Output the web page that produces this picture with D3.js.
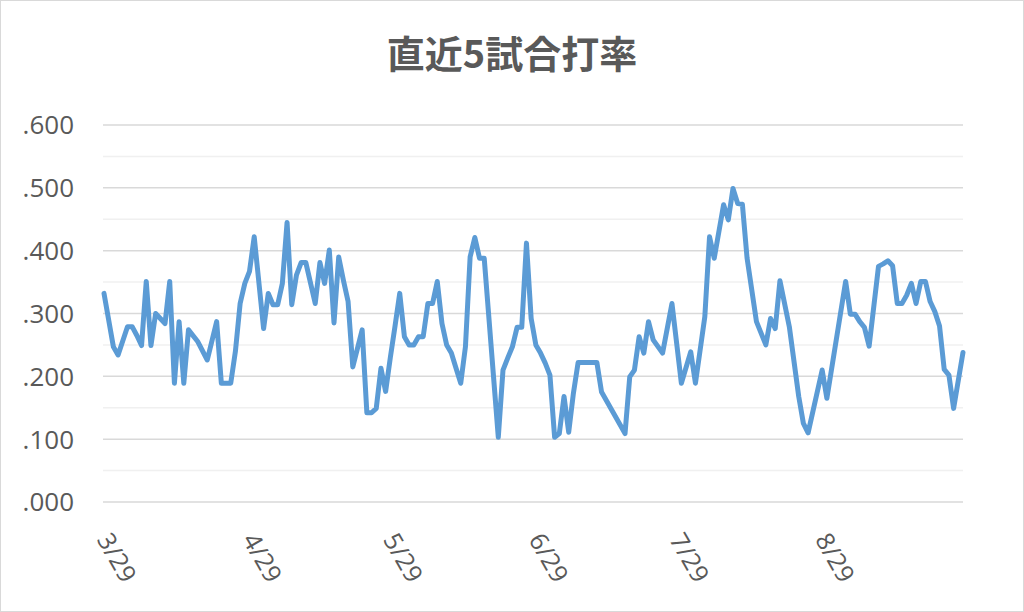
<!DOCTYPE html>
<html><head><meta charset="utf-8">
<script src="https://cdn.jsdelivr.net/npm/d3@7"></script>
<style>html,body{margin:0;padding:0;background:#fff;}svg{display:block;}</style>
</head><body>
<svg id="c" width="1024" height="612"></svg>
<script>
const title = "直近5試合打率";
const dates = ["3/29","3/31","4/1","4/3","4/4","4/5","4/6","4/7","4/8","4/9","4/10","4/11","4/12","4/13","4/14","4/15","4/16","4/18","4/20","4/22","4/23","4/25","4/26","4/27","4/28","4/29","4/30",
"5/2","5/3","5/4","5/5","5/6","5/7","5/8","5/9","5/10","5/11","5/13","5/14","5/15","5/16","5/17","5/18","5/19","5/20","5/21","5/23","5/24","5/25","5/26","5/27","5/28","5/29","5/30","5/31",
"6/1","6/2","6/3","6/4","6/5","6/6","6/7","6/8","6/9","6/10","6/11","6/12","6/13","6/14","6/15","6/16","6/17","6/18","6/21","6/22","6/23","6/24","6/25","6/26","6/27","6/28","6/29","6/30",
"7/1","7/2","7/3","7/4","7/5","7/6","7/7","7/8","7/9","7/10","7/11","7/12","7/13","7/18","7/19","7/20","7/21","7/22","7/23","7/24","7/26","7/28","7/30",
"8/1","8/2","8/4","8/5","8/6","8/8","8/9","8/10","8/11","8/12","8/13","8/15","8/17","8/18","8/19","8/20","8/22","8/24","8/25","8/26","8/29","8/30",
"9/3","9/4","9/5","9/6","9/7","9/8","9/10","9/11","9/12","9/13","9/14","9/15","9/16","9/17","9/18","9/19","9/20","9/21","9/22","9/23","9/24","9/25","9/26","9/28"];
const avg = [.332,.247,.234,.279,.279,.265,.249,.351,.249,.300,.292,.284,.351,.189,.287,.189,.274,.255,.226,.287,.189,.189,.240,.316,.348,.367,.422,
.276,.332,.314,.314,.348,.445,.314,.361,.381,.381,.316,.381,.348,.401,.285,.390,.353,.319,.215,.274,.142,.142,.149,.213,.176,.230,.280,.332,
.263,.250,.250,.263,.263,.316,.316,.351,.284,.250,.237,.213,.189,.247,.390,.421,.388,.388,.103,.210,.229,.247,.278,.278,.412,.292,.250,.237,
.221,.202,.103,.109,.168,.111,.173,.222,.222,.222,.222,.222,.175,.109,.199,.210,.263,.237,.287,.258,.237,.316,.189,
.239,.189,.295,.422,.388,.473,.449,.499,.475,.474,.388,.287,.250,.292,.276,.352,.279,.168,.125,.110,.210,.165,
.351,.299,.299,.287,.278,.248,.375,.379,.384,.376,.316,.316,.329,.348,.316,.351,.351,.319,.303,.280,.211,.202,.149,.238];
const xTickLabels = ["3/29","4/29","5/29","6/29","7/29","8/29"];
const yTicks = [0,.1,.2,.3,.4,.5,.6];
const yMinor = [.05,.15,.25,.35,.45,.55];
const xStart = "3/29", xEnd = "9/28";

const parse = s => d3.timeParse("%Y/%m/%d")("2019/" + s);
const data = dates.map((d,i)=>({d:parse(d), v:avg[i]}));

const svg = d3.select("#c");
svg.append("rect").attr("x",0.5).attr("y",0.5).attr("width",1023).attr("height",611)
  .attr("fill","#fff").attr("stroke","#d9d9d9");

const x = d3.scaleTime().domain([parse(xStart), parse(xEnd)]).range([104, 963]);
const y = d3.scaleLinear().domain([0,.6]).range([502,125]);

const g = svg.append("g");
g.selectAll("line.minor").data(yMinor).join("line").attr("class","minor")
  .attr("x1",103).attr("x2",963).attr("y1",d=>y(d)).attr("y2",d=>y(d))
  .attr("stroke","#f0f0f0").attr("stroke-width",1.5);
g.selectAll("line.major").data(yTicks).join("line").attr("class","major")
  .attr("x1",103).attr("x2",963).attr("y1",d=>y(d)).attr("y2",d=>y(d))
  .attr("stroke","#d9d9d9").attr("stroke-width",1.5);

const fmt = v => d3.format(".3f")(v).replace(/^0/,"");
g.selectAll("text.yl").data(yTicks).join("text").attr("class","yl")
  .attr("x",74).attr("y",d=>y(d)).attr("dy","0.36em").attr("text-anchor","end")
  .attr("font-family","'Open Sans', sans-serif").attr("font-size",26).attr("fill","#595959")
  .text(fmt);

g.selectAll("text.xl").data(xTickLabels).join("text").attr("class","xl")
  .attr("transform",d=>`translate(${x(parse(d))},535) rotate(60)`)
  .attr("dy","0.36em").attr("text-anchor","start")
  .attr("font-family","'Open Sans', sans-serif").attr("font-size",25).attr("fill","#595959")
  .text(d=>d);

const line = d3.line().x(d=>x(d.d)).y(d=>y(d.v));
g.append("path").datum(data).attr("d",line).attr("fill","none")
  .attr("stroke","#5b9bd5").attr("stroke-width",5).attr("stroke-linejoin","round").attr("stroke-linecap","round");

svg.append("text").attr("x",512).attr("y",68).attr("text-anchor","middle")
  .attr("font-family","'Noto Sans CJK JP', sans-serif").attr("font-weight","bold")
  .attr("font-size",38).attr("fill","#595959").text(title);
</script>
</body></html>
